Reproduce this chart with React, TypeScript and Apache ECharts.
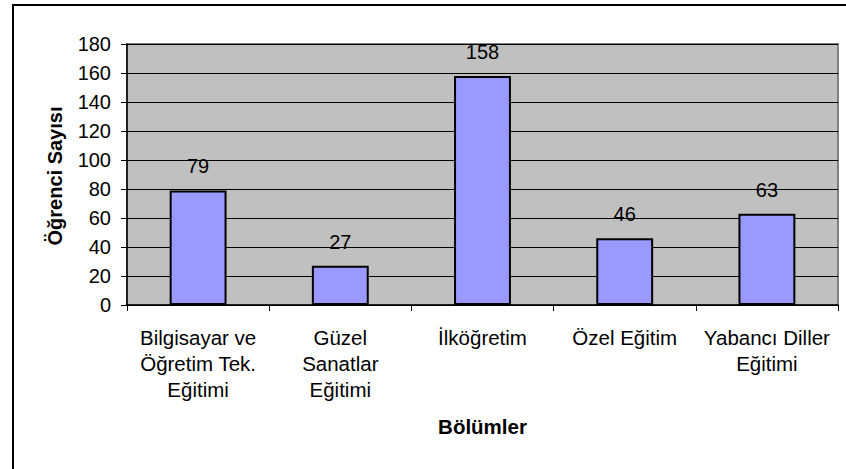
import React, { useEffect, useRef } from "react";
import * as echarts from "echarts";

const categories = [
  "Bilgisayar ve\nÖğretim Tek.\nEğitimi",
  "Güzel\nSanatlar\nEğitimi",
  "İlköğretim",
  "Özel Eğitim",
  "Yabancı Diller\nEğitimi",
];
const values = [79, 27, 158, 46, 63];
const yAxisTitle = "Öğrenci Sayısı";
const xAxisTitle = "Bölümler";

const FONT = "'Liberation Sans', Arial, sans-serif";

export default function App() {
  const ref = useRef<HTMLDivElement>(null);
  useEffect(() => {
    if (!ref.current) return;
    const chart = echarts.init(ref.current, undefined, { renderer: "svg" });
    chart.setOption({
      animation: false,
      backgroundColor: "#ffffff",
      textStyle: { fontFamily: FONT },
      graphic: [
        {
          type: "rect",
          shape: { x: 13, y: 5, width: 900, height: 600 },
          style: { fill: "none", stroke: "#000000", lineWidth: 2 },
          silent: true,
        },
        {
          type: "text",
          x: 55,
          y: 176,
          rotation: Math.PI / 2,
          style: {
            text: yAxisTitle,
            fontFamily: FONT,
            fontSize: 20,
            fontWeight: "bold",
            fill: "#000",
            align: "center",
            verticalAlign: "middle",
          },
          silent: true,
        },
      ],
      grid: {
        left: 127,
        top: 44,
        right: 8,
        bottom: 164,
        show: true,
        backgroundColor: "#C0C0C0",
        borderColor: "#808080",
        borderWidth: 2,
      },
      xAxis: {
        type: "category",
        data: categories,
        name: xAxisTitle,
        nameLocation: "middle",
        nameGap: 111,
        nameTextStyle: { fontFamily: FONT, fontSize: 20.5, fontWeight: "bold", color: "#000" },
        axisLine: { show: true, lineStyle: { color: "#000", width: 1.5 } },
        axisTick: { show: true, length: 6, lineStyle: { color: "#000" } },
        axisLabel: {
          interval: 0,
          margin: 19,
          fontFamily: FONT,
          fontSize: 20.5,
          lineHeight: 26,
          color: "#000",
        },
        splitLine: { show: false },
      },
      yAxis: {
        type: "value",
        min: 0,
        max: 180,
        interval: 20,
        axisLine: { show: true, lineStyle: { color: "#000", width: 1.5 } },
        axisTick: { show: true, length: 6, lineStyle: { color: "#000" } },
        axisLabel: { margin: 16, fontFamily: FONT, fontSize: 20, color: "#000" },
        splitLine: { show: true, lineStyle: { color: "#000", width: 1 } },
      },
      series: [
        {
          type: "bar",
          data: values,
          barCategoryGap: "60%",
          itemStyle: { color: "#9999FF", borderColor: "#000", borderWidth: 2 },
          label: {
            show: true,
            position: "top",
            distance: 14,
            fontFamily: FONT,
            fontSize: 20,
            color: "#000",
          },
        },
      ],
    });
    return () => chart.dispose();
  }, []);
  return (
    <div
      ref={ref}
      style={{ position: "fixed", left: 0, top: 0, width: 846, height: 469 }}
    />
  );
}
